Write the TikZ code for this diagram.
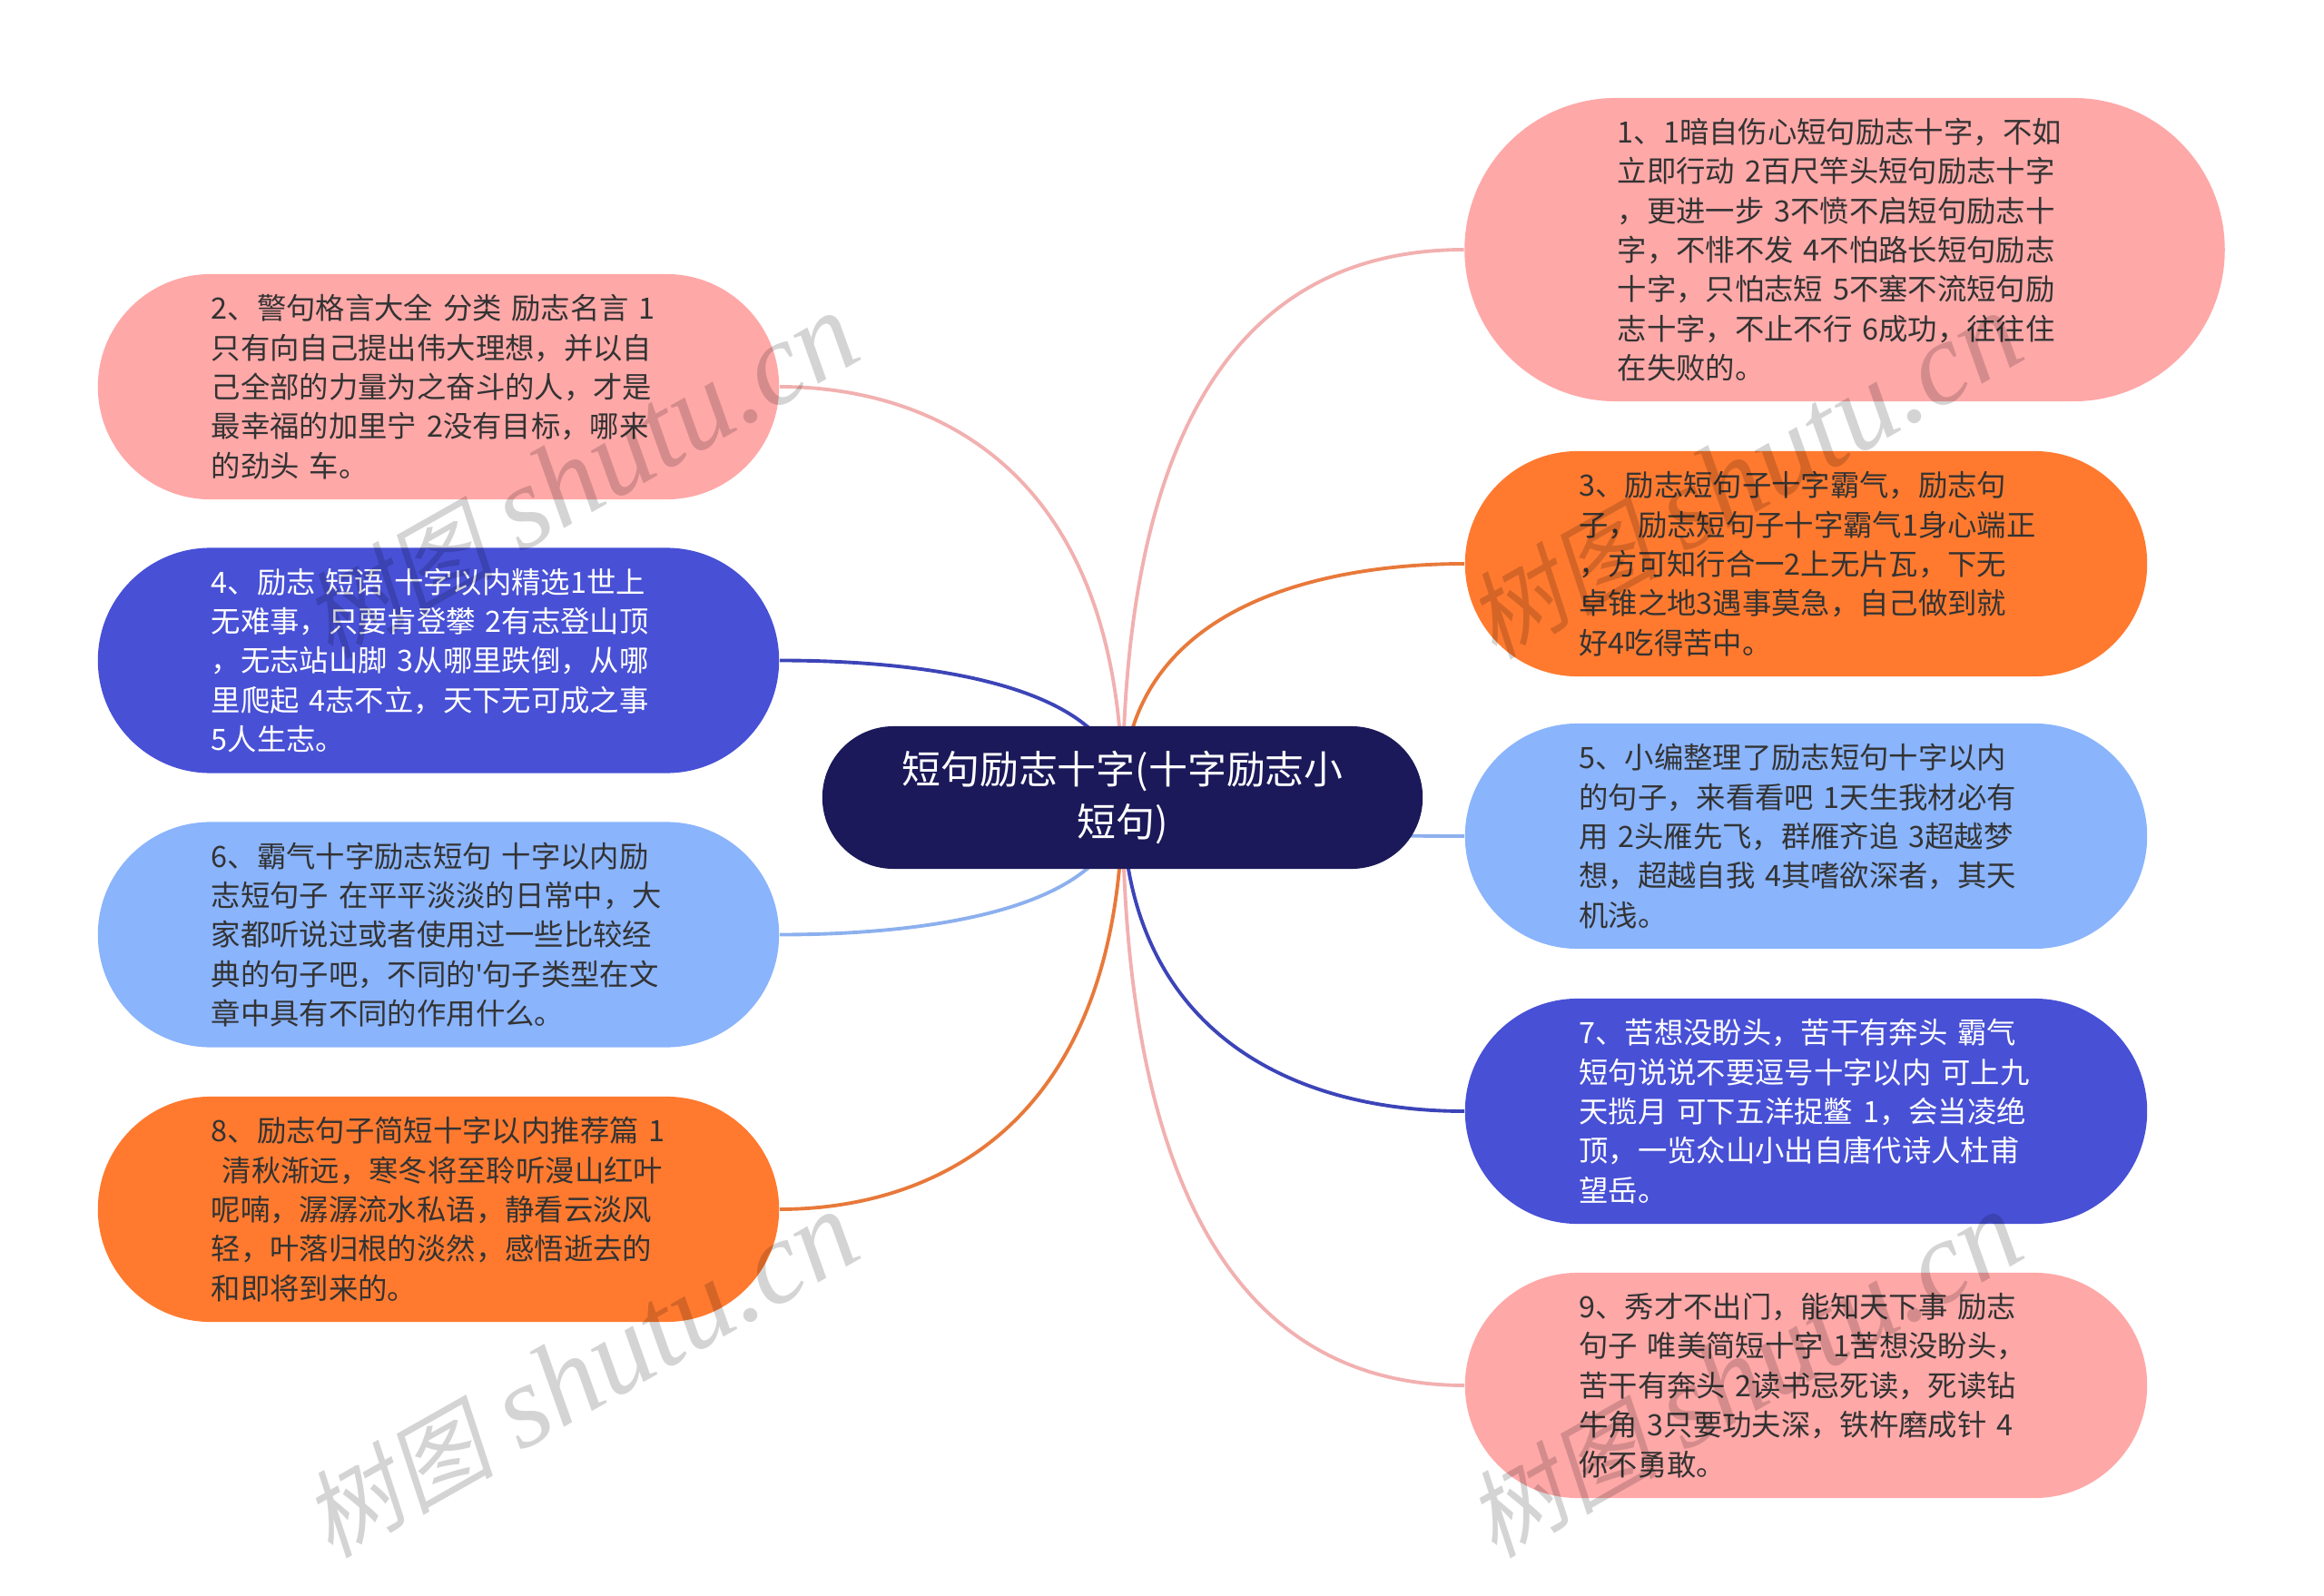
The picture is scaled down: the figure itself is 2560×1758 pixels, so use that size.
\documentclass[tikz,border=0pt]{standalone}
\usepackage{fontspec}
\setmainfont{Noto Sans CJK SC}
\newfontfamily\markcjk[FakeSlant=0.2]{Noto Sans CJK SC}
\newfontfamily\marklatin{Liberation Serif}
\newfontfamily\plainquote{Noto Sans}
\usepackage{xcolor}
\usepackage{tikz}
\usetikzlibrary{shapes.misc}
\usetikzlibrary{backgrounds}

\definecolor{pinkfill}{HTML}{FFA8A8}
\definecolor{orangefill}{HTML}{FF7A2F}
\definecolor{skyfill}{HTML}{8AB4FC}
\definecolor{indigofill}{HTML}{4850D6}
\definecolor{navyfill}{HTML}{1B1959}
\definecolor{pinkline}{HTML}{F2B0B0}
\definecolor{orangeline}{HTML}{E8793A}
\definecolor{skyline}{HTML}{8CB0EE}
\definecolor{indigoline}{HTML}{3C44B8}

\newcommand{\marktext}{{\fontsize{30}{30}\markcjk 树图} {\marklatin\itshape shutu.cn}}

\tikzset{
  leaf/.style={rounded rectangle,inner sep=0pt,text width=5cm,align=left,
    minimum width=7.5cm,minimum height=2.48cm,text=black!80,
    font=\fontsize{9.2}{12.33}\selectfont},
  leafwide/.style={leaf,minimum width=8.37cm,minimum height=3.34cm},
  leafright/.style={leaf,minimum width=7.51cm},
  rootnode/.style={rounded rectangle,inner sep=0pt,fill=navyfill,text=white,
    text width=5.2cm,align=center,minimum width=6.61cm,minimum height=1.57cm,
    font=\fontsize{12.2}{16.45}\selectfont},
  branch/.style={line width=1.1pt},
  watermark/.style={rotate=29.5,text=black,opacity=0.17,inner sep=0pt,
    font=\fontsize{37}{37}\selectfont}
}

\begin{document}
\begin{tikzpicture}[x=0.01cm,y=-0.01cm]
  \useasboundingbox (0,0) rectangle (2560,1758);

  \node[rootnode] (root) at (1236.5,878.5) {短句励志十字(十字励志小\\短句)};

  % left side
  \node[leaf,fill=pinkfill] (n2) at (483,426) {2、警句格言大全 分类 励志名言 1\\只有向自己提出伟大理想，并以自\\己全部的力量为之奋斗的人，才是\\最幸福的加里宁 2没有目标，哪来\\的劲头 车。};
  \node[leaf,fill=indigofill,text=white] (n4) at (483,727.5) {4、励志 短语 十字以内精选1世上\\无难事，只要肯登攀 2有志登山顶\\，无志站山脚 3从哪里跌倒，从哪\\里爬起 4志不立，天下无可成之事\\5人生志。};
  \node[leaf,fill=skyfill] (n6) at (483,1029.5) {6、霸气十字励志短句 十字以内励\\志短句子 在平平淡淡的日常中，大\\家都听说过或者使用过一些比较经\\典的句子吧，不同的{\plainquote '}句子类型在文\\章中具有不同的作用什么。};
  \node[leaf,fill=orangefill] (n8) at (483,1332) {8、励志句子简短十字以内推荐篇 1\\\hspace*{3.4pt}清秋渐远，寒冬将至聆听漫山红叶\\呢喃，潺潺流水私语，静看云淡风\\轻，叶落归根的淡然，感悟逝去的\\和即将到来的。};

  % right side
  \node[leafwide,fill=pinkfill] (n1) at (2032,275) {1、1暗自伤心短句励志十字，不如\\立即行动 2百尺竿头短句励志十字\\，更进一步 3不愤不启短句励志十\\字，不悱不发 4不怕路长短句励志\\十字，只怕志短 5不塞不流短句励\\志十字，不止不行 6成功，往往住\\在失败的。};
  \node[leafright,fill=orangefill] (n3) at (1989.5,621) {3、励志短句子十字霸气，励志句\\子，励志短句子十字霸气1身心端正\\，方可知行合一2上无片瓦，下无\\卓锥之地3遇事莫急，自己做到就\\好4吃得苦中。};
  \node[leafright,fill=skyfill] (n5) at (1989.5,921) {5、小编整理了励志短句十字以内\\的句子，来看看吧 1天生我材必有\\用 2头雁先飞，群雁齐追 3超越梦\\想，超越自我 4其嗜欲深者，其天\\机浅。};
  \node[leafright,fill=indigofill,text=white] (n7) at (1989.5,1224) {7、苦想没盼头，苦干有奔头 霸气\\短句说说不要逗号十字以内 可上九\\天揽月 可下五洋捉鳖 1，会当凌绝\\顶，一览众山小出自唐代诗人杜甫\\望岳。};
  \node[leafright,fill=pinkfill] (n9) at (1989.5,1526) {9、秀才不出门，能知天下事 励志\\句子 唯美简短十字 1苦想没盼头，\\苦干有奔头 2读书忌死读，死读钻\\牛角 3只要功夫深，铁杵磨成针 4\\你不勇敢。};

  \begin{pgfonlayer}{background}
    \draw[branch,pinkline] (root.center) .. controls +(0,-370) and +(160,0) .. (n2.east);
    \draw[branch,indigoline] (root.center) .. controls +(0,-141) and +(100,0) .. (n4.east);
    \draw[branch,skyline] (root.center) .. controls +(0,141) and +(100,0) .. (n6.east);
    \draw[branch,orangeline] (root.center) .. controls +(0,370) and +(160,0) .. (n8.east);
    \draw[branch,pinkline] (root.center) .. controls +(0,-400) and +(-250,0) .. (n1.west);
    \draw[branch,orangeline] (root.center) .. controls +(0,-220) and +(-140,0) .. (n3.west);
    \draw[branch,skyline] (root.center) .. controls +(0,40) and +(-100,0) .. (n5.west);
    \draw[branch,indigoline] (root.center) .. controls +(0,250) and +(-200,0) .. (n7.west);
    \draw[branch,pinkline] (root.center) .. controls +(0,408) and +(-260,0) .. (n9.west);
  \end{pgfonlayer}

  % marks laid over everything
  \node[watermark] (mark1) at (639,525) {\marktext};
  \node[watermark] (mark2) at (1921,525) {\marktext};
  \node[watermark] (mark3) at (639,1515) {\marktext};
  \node[watermark] (mark4) at (1921,1515) {\marktext};
\end{tikzpicture}
\end{document}
